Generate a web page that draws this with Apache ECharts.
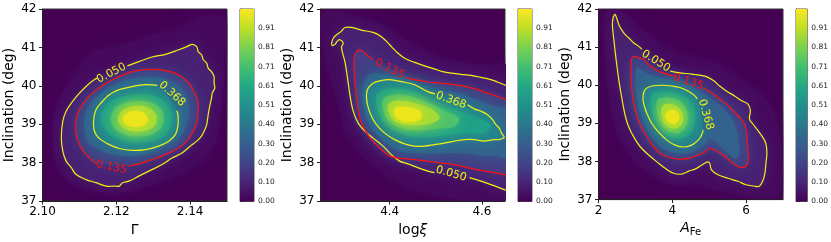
<!DOCTYPE html>
<html><head><meta charset="utf-8">
<script src="https://cdn.jsdelivr.net/npm/echarts@6/dist/echarts.min.js"></script>
<style>html,body{margin:0;padding:0;background:#fff}#c{width:831px;height:242px}</style>
</head><body><div id="c"></div>
<script>
// ---------- axes / ticks ----------
const yRange = [37, 42];
const yTicks = [37, 38, 39, 40, 41, 42];
const p1_xRange = [2.10, 2.15];
const p1_xTicks = [2.10, 2.12, 2.14];
const p2_xRange = [4.25, 4.65];
const p2_xTicks = [4.4, 4.6];
const p3_xRange = [2, 7];
const p3_xTicks = [2, 4, 6];
const cbRange = [0, 1.01];
const cbTicks = [0, 0.1011, 0.2022, 0.3033, 0.4044, 0.5055, 0.6066, 0.7077, 0.8088, 0.9099];
const contourLevels = ['0.050', '0.135', '0.368'];

// ---------- panel 1 (Gamma) ----------
const p1_c050 = [[2.1230,40.52],[2.1261,40.63],[2.1297,40.75],[2.1333,40.82],[2.1369,40.94],[2.1391,41.02],[2.1406,41.08],[2.1418,41.02],[2.1422,40.89],[2.1431,40.81],[2.1436,40.68],[2.1445,40.59],[2.1449,40.46],[2.1458,40.37],[2.1465,40.24],[2.1465,40.07],[2.1467,39.94],[2.1460,39.81],[2.1458,39.68],[2.1454,39.51],[2.1449,39.25],[2.1445,38.99],[2.1440,38.86],[2.1431,38.69],[2.1418,38.56],[2.1400,38.43],[2.1378,38.25],[2.1351,38.12],[2.1324,37.95],[2.1288,37.78],[2.1261,37.65],[2.1234,37.52],[2.1217,37.48],[2.1208,37.39],[2.1194,37.39],[2.1172,37.39],[2.1145,37.48],[2.1118,37.56],[2.1091,37.69],[2.1078,37.87],[2.1064,38.04],[2.1055,38.30],[2.1051,38.64],[2.1055,39.08],[2.1064,39.34],[2.1082,39.60],[2.1100,39.81],[2.1123,40.03],[2.1140,40.16],[2.1149,40.20]];
const p1_c135 = [[2.1234,37.91],[2.1261,37.97],[2.1297,38.08],[2.1333,38.21],[2.1369,38.38],[2.1391,38.56],[2.1406,38.77],[2.1418,39.03],[2.1422,39.34],[2.1421,39.60],[2.1413,39.81],[2.1400,40.03],[2.1387,40.16],[2.1369,40.29],[2.1346,40.37],[2.1315,40.42],[2.1279,40.42],[2.1243,40.37],[2.1208,40.24],[2.1172,40.07],[2.1140,39.85],[2.1118,39.64],[2.1100,39.38],[2.1091,39.12],[2.1090,38.82],[2.1096,38.56],[2.1105,38.38],[2.1118,38.21],[2.1136,38.04],[2.1147,37.97]];
const p1_c368 = [[2.1311,40.01],[2.1279,40.03],[2.1243,39.98],[2.1208,39.90],[2.1181,39.77],[2.1158,39.55],[2.1145,39.38],[2.1139,39.16],[2.1139,38.90],[2.1145,38.73],[2.1158,38.60],[2.1181,38.47],[2.1208,38.37],[2.1243,38.32],[2.1279,38.34],[2.1315,38.43],[2.1342,38.56],[2.1360,38.73],[2.1367,38.95],[2.1367,39.25],[2.1364,39.35]];
const p1_f020 = [[2.1127,40.81],[2.1217,41.07],[2.1306,41.33],[2.1378,41.54],[2.1422,41.76],[2.1467,41.84],[2.1494,41.76],[2.1494,40.81],[2.1490,39.94],[2.1481,39.08],[2.1467,38.47],[2.1431,38.04],[2.1369,37.69],[2.1288,37.39],[2.1217,37.22],[2.1145,37.26],[2.1082,37.43],[2.1042,37.87],[2.1029,38.47],[2.1030,39.16],[2.1047,39.68],[2.1078,40.20]];
const p1_f250 = [[2.1279,40.22],[2.1333,40.18],[2.1373,39.98],[2.1394,39.64],[2.1396,39.25],[2.1387,38.90],[2.1369,38.64],[2.1337,38.47],[2.1297,38.30],[2.1252,38.19],[2.1208,38.19],[2.1163,38.30],[2.1127,38.51],[2.1114,38.82],[2.1114,39.16],[2.1125,39.47],[2.1149,39.73],[2.1185,39.98],[2.1230,40.16]];
const p1_f500 = [[2.1252,39.77],[2.1302,39.75],[2.1337,39.55],[2.1351,39.25],[2.1346,38.90],[2.1324,38.66],[2.1279,38.54],[2.1234,38.54],[2.1194,38.66],[2.1167,38.89],[2.1158,39.16],[2.1170,39.47],[2.1203,39.68]];
const p1_f650 = [[2.1248,39.60],[2.1296,39.56],[2.1324,39.36],[2.1328,39.07],[2.1311,38.81],[2.1270,38.69],[2.1228,38.71],[2.1194,38.90],[2.1185,39.16],[2.1200,39.45]];
const p1_f800 = [[2.1246,39.47],[2.1288,39.43],[2.1309,39.22],[2.1303,38.95],[2.1272,38.82],[2.1230,38.85],[2.1206,39.05],[2.1212,39.32]];
const p1_f920 = [[2.1238,39.34],[2.1274,39.30],[2.1286,39.10],[2.1266,38.94],[2.1230,38.97],[2.1218,39.16]];
const p1_labels = [['0.050',2.1187,40.33,27.5],['0.135',2.1187,37.88,-12],['0.368',2.1351,39.79,-42]];

// ---------- panel 2 (log xi) ----------
const p2_c050a = [[4.4971,37.74],[4.4827,37.78],[4.4611,37.87],[4.4396,37.97],[4.4216,38.04],[4.4036,38.21],[4.3856,38.43],[4.3640,38.64],[4.3460,38.82],[4.3317,39.03],[4.3209,39.34],[4.3137,39.77],[4.3086,40.20],[4.3029,40.63],[4.2971,40.89],[4.2957,41.02],[4.2993,41.11],[4.2921,41.20],[4.2871,41.17],[4.2813,41.08],[4.2755,41.05],[4.2741,41.11],[4.2777,41.24],[4.2849,41.33],[4.2942,41.41],[4.3029,41.52],[4.3173,41.52],[4.3389,41.45],[4.3640,41.39],[4.3820,41.28],[4.4000,41.07],[4.4144,40.89],[4.4324,40.72],[4.4540,40.61],[4.4755,40.52],[4.4971,40.44],[4.5151,40.37],[4.5331,40.33],[4.5547,40.30],[4.5763,40.27],[4.5978,40.22],[4.6194,40.16],[4.6338,40.10],[4.6482,40.03],[4.6626,39.96]];
const p2_c050b = [[4.5727,37.61],[4.5978,37.52],[4.6194,37.43],[4.6482,37.30],[4.6626,37.24]];
const p2_c135a = [[4.6626,37.64],[4.6482,37.69],[4.6266,37.74],[4.5978,37.80],[4.5691,37.87],[4.5403,37.95],[4.5115,37.99],[4.4827,38.04],[4.4540,38.08],[4.4252,38.11],[4.4000,38.17],[4.3784,38.38],[4.3604,38.60],[4.3460,38.86],[4.3353,39.16],[4.3302,39.51],[4.3259,39.94],[4.3230,40.37],[4.3230,40.72],[4.3281,40.89],[4.3374,40.94],[4.3496,40.81],[4.3640,40.68]];
const p2_c135b = [[4.4360,40.22],[4.4540,40.16],[4.4827,40.10],[4.5115,40.07],[4.5403,40.03],[4.5655,39.98],[4.5906,39.90],[4.6122,39.81],[4.6338,39.73],[4.6482,39.66],[4.6626,39.60]];
const p2_c368 = [[4.5691,39.51],[4.5835,39.40],[4.5978,39.34],[4.6122,39.25],[4.6230,39.12],[4.6302,38.99],[4.6374,38.90],[4.6424,38.77],[4.6482,38.66],[4.6374,38.60],[4.6266,38.60],[4.6050,38.56],[4.5835,38.60],[4.5619,38.60],[4.5403,38.56],[4.5187,38.51],[4.4971,38.47],[4.4755,38.43],[4.4540,38.43],[4.4324,38.49],[4.4108,38.60],[4.3892,38.77],[4.3712,38.99],[4.3590,39.25],[4.3518,39.51],[4.3496,39.77],[4.3532,39.94],[4.3640,40.07],[4.3784,40.13],[4.4000,40.16],[4.4252,40.11],[4.4540,40.03],[4.4827,39.85],[4.4986,39.79]];
const p2_f020 = [[4.2525,41.84],[4.2885,41.93],[4.3317,41.80],[4.3892,41.58],[4.4324,41.24],[4.4827,40.89],[4.5475,40.63],[4.6050,40.55],[4.6626,40.46],[4.6626,36.91],[4.5331,37.09],[4.4611,37.26],[4.4036,37.61],[4.3532,38.04],[4.3101,38.64],[4.2885,39.51],[4.2669,40.37],[4.2525,41.07]];
const p2_f250 = [[4.3410,39.85],[4.3460,40.11],[4.3568,40.29],[4.3712,40.33],[4.4108,40.24],[4.4540,40.09],[4.4971,39.94],[4.5475,39.81],[4.5906,39.64],[4.6266,39.47],[4.6626,39.34],[4.6626,38.12],[4.6338,38.17],[4.5978,38.19],[4.5619,38.25],[4.5259,38.25],[4.4899,38.25],[4.4540,38.25],[4.4180,38.32],[4.3892,38.53],[4.3676,38.79],[4.3532,39.08],[4.3446,39.42]];
const p2_f500 = [[4.3712,39.77],[4.3892,39.92],[4.4252,39.92],[4.4611,39.81],[4.4971,39.51],[4.5403,39.38],[4.5835,39.21],[4.6194,38.97],[4.6050,38.77],[4.5619,38.77],[4.5187,38.71],[4.4755,38.66],[4.4396,38.71],[4.4072,38.86],[4.3856,39.08],[4.3734,39.42]];
const p2_f650 = [[4.3856,39.66],[4.4108,39.77],[4.4468,39.72],[4.4827,39.55],[4.5187,39.36],[4.5500,39.16],[4.5420,38.95],[4.5043,38.88],[4.4611,38.84],[4.4252,38.90],[4.3990,39.07],[4.3870,39.34]];
const p2_f800 = [[4.3985,39.54],[4.4252,39.61],[4.4625,39.52],[4.4960,39.36],[4.5080,39.16],[4.4840,39.00],[4.4468,38.98],[4.4130,39.06],[4.3985,39.28]];
const p2_f920 = [[4.4120,39.42],[4.4396,39.45],[4.4680,39.32],[4.4650,39.11],[4.4324,39.06],[4.4120,39.20]];
const p2_labels = [['0.050',4.5331,37.71,-16],['0.135',4.4000,40.44,-27],['0.368',4.5331,39.62,-20]];

// ---------- panel 3 (A_Fe) ----------
const p3_c050 = [[3.942,40.37],[4.166,40.33],[4.524,40.29],[4.882,40.24],[5.105,40.13],[5.284,39.98],[5.463,39.85],[5.687,39.72],[5.866,39.60],[6.045,39.51],[6.117,39.34],[6.090,39.12],[6.179,38.99],[6.313,38.82],[6.448,38.64],[6.537,38.47],[6.564,38.21],[6.537,37.95],[6.510,37.69],[6.448,37.48],[6.358,37.35],[6.224,37.35],[6.000,37.39],[5.777,37.48],[5.508,37.56],[5.240,37.65],[5.061,37.78],[5.016,37.95],[4.971,37.99],[4.837,37.93],[4.658,37.82],[4.434,37.74],[4.255,37.67],[4.031,37.69],[3.808,37.82],[3.584,37.99],[3.360,38.17],[3.137,38.38],[2.958,38.64],[2.823,38.90],[2.734,39.16],[2.644,39.60],[2.555,40.11],[2.483,40.63],[2.421,41.15],[2.376,41.58],[2.394,41.76],[2.447,41.86],[2.510,41.71],[2.573,41.54],[2.689,41.37],[2.823,41.24],[2.958,41.11],[3.092,41.02],[3.181,40.94]];
const p3_c135 = [[4.837,39.92],[5.061,39.81],[5.284,39.64],[5.463,39.51],[5.642,39.34],[5.821,39.16],[5.955,38.99],[6.000,38.82],[6.027,38.64],[6.045,38.38],[6.063,38.08],[6.027,37.91],[5.911,37.84],[5.777,37.87],[5.597,37.99],[5.374,38.17],[5.150,38.30],[5.016,38.34],[4.882,38.25],[4.703,38.17],[4.434,38.08],[4.166,38.06],[3.897,38.11],[3.673,38.21],[3.494,38.38],[3.342,38.60],[3.181,38.86],[3.047,39.16],[2.958,39.51],[2.895,39.94],[2.877,40.37],[2.895,40.68],[2.958,40.76],[3.092,40.72],[3.226,40.68],[3.405,40.50],[3.629,40.37],[3.852,40.29],[4.031,40.24]];
const p3_c368 = [[4.676,39.64],[4.613,39.72],[4.434,39.84],[4.210,39.94],[3.987,39.98],[3.718,40.00],[3.450,39.98],[3.271,39.90],[3.208,39.72],[3.226,39.51],[3.315,39.25],[3.450,38.99],[3.629,38.77],[3.852,38.56],[4.076,38.43],[4.300,38.38],[4.524,38.43],[4.703,38.56],[4.792,38.69],[4.837,38.82]];
const p3_f020 = [[2.197,41.93],[2.644,41.93],[3.271,41.41],[4.166,40.81],[5.150,40.59],[5.955,40.11],[6.582,39.60],[6.895,38.82],[6.940,37.95],[6.850,37.09],[6.224,37.04],[5.329,37.22],[4.613,37.39],[3.987,37.39],[3.271,37.74],[2.734,38.30],[2.421,38.99],[2.242,39.94],[2.152,41.07]];
const p3_f250 = [[3.047,40.46],[3.271,40.33],[3.718,40.18],[4.255,40.10],[4.792,39.81],[5.240,39.51],[5.508,39.25],[5.687,38.99],[5.777,38.64],[5.821,38.25],[5.732,38.08],[5.508,38.21],[5.240,38.47],[5.016,38.60],[4.837,38.43],[4.524,38.25],[4.166,38.21],[3.808,38.30],[3.539,38.51],[3.315,38.82],[3.137,39.25],[3.047,39.68],[3.002,40.11]];
const p3_f500 = [[3.450,39.77],[3.808,39.84],[4.166,39.77],[4.479,39.60],[4.613,39.34],[4.613,38.99],[4.479,38.73],[4.210,38.60],[3.942,38.64],[3.718,38.82],[3.539,39.08],[3.432,39.42]];
const p3_f650 = [[3.610,39.63],[3.942,39.67],[4.270,39.53],[4.410,39.25],[4.380,38.93],[4.166,38.74],[3.900,38.79],[3.700,38.98],[3.590,39.29]];
const p3_f800 = [[3.745,39.47],[4.040,39.49],[4.260,39.31],[4.280,39.01],[4.080,38.86],[3.840,38.93],[3.715,39.16]];
const p3_f920 = [[3.880,39.33],[4.110,39.33],[4.195,39.15],[4.070,38.99],[3.880,39.04],[3.810,39.19]];
const p3_labels = [['0.050',3.557,40.63,-32],['0.135',4.434,40.09,-18],['0.368',4.908,39.23,-74]];

// ---------- styling ----------
const FONT = 'DejaVu Sans';
const viridis = ['#440154','#482475','#414487','#355f8d','#2a788e','#21918c','#22a884','#44bf70','#7ad151','#bddf26','#fde725'];
const fillColors = ['#460a5d','#482173','#433e85','#33628d','#26818e','#1fa088','#4ac16d','#a2da37','#ece51b'];
const YEL = '#f0f012', RED = '#ff1010';
const levelColor = {'0.050': YEL, '0.135': RED, '0.368': YEL};

const panels = [
  { left: 42.5, xr: p1_xRange, xt: p1_xTicks, fmt: v => v.toFixed(2),
    name: 'Γ',
    fills: [p1_f020, p1_c050, p1_c135, p1_f250, p1_c368, p1_f500, p1_f650, p1_f800, p1_f920],
    lines: [[p1_c050,'0.050'],[p1_c135,'0.135'],[p1_c368,'0.368']], labels: p1_labels },
  { left: 320.5, xr: p2_xRange, xt: p2_xTicks, fmt: v => v.toFixed(1),
    name: '{r|log}{i|ξ}',
    fills: [p2_f020, p2_c050a.concat(p2_c050b.slice().reverse()), p2_c135a.concat(p2_c135b), p2_f250, p2_c368, p2_f500, p2_f650, p2_f800, p2_f920],
    lines: [[p2_c050a,'0.050'],[p2_c050b,'0.050'],[p2_c135a,'0.135'],[p2_c135b,'0.135'],[p2_c368,'0.368']], labels: p2_labels },
  { left: 598.5, xr: p3_xRange, xt: p3_xTicks, fmt: v => String(v),
    name: '{i|A}{s|Fe}',
    fills: [p3_f020, p3_c050, p3_c135, p3_f250, p3_c368, p3_f500, p3_f650, p3_f800, p3_f920],
    lines: [[p3_c050,'0.050'],[p3_c135,'0.135'],[p3_c368,'0.368']], labels: p3_labels }
];

const TOP = 9, H = 192.5, W = 184.5, CBW = 14;
const grid = [], xAxis = [], yAxis = [], series = [];
const nameRich = {
  r: {fontSize: 14, fontFamily: FONT, color: '#000'},
  i: {fontSize: 14, fontFamily: FONT, fontStyle: 'italic', color: '#000'},
  s: {fontSize: 10, fontFamily: FONT, color: '#000', padding: [7, 0, 0, 0]}
};
panels.forEach((p, k) => {
  grid.push({left: p.left, top: TOP, width: W, height: H, show: true, backgroundColor: '#440154', borderColor: '#333', borderWidth: 1});
  xAxis.push({gridIndex: k, type: 'value', min: p.xr[0], max: p.xr[1],
    axisLine: {show: true, onZero: false, lineStyle: {color: '#222', width: 1}},
    axisTick: {show: true, customValues: p.xt, length: 3.5, lineStyle: {color: '#222'}},
    axisLabel: {customValues: p.xt, formatter: p.fmt, fontSize: 12, fontFamily: FONT, color: '#000', margin: 5},
    splitLine: {show: false},
    name: p.name, nameLocation: 'middle', nameGap: 19,
    nameTextStyle: {fontSize: 14, fontFamily: FONT, color: '#000', rich: nameRich}});
  yAxis.push({gridIndex: k, type: 'value', min: yRange[0], max: yRange[1],
    axisLine: {show: true, onZero: false, lineStyle: {color: '#222', width: 1}},
    axisTick: {show: true, customValues: yTicks, length: 3.5, lineStyle: {color: '#222'}},
    axisLabel: {customValues: yTicks, formatter: v => String(v), fontSize: 12, fontFamily: FONT, color: '#000', margin: 6},
    splitLine: {show: false},
    name: 'Inclination (deg)', nameLocation: 'middle', nameGap: 26,
    nameTextStyle: {fontSize: 14, fontFamily: FONT, color: '#000'}});
  // fills
  series.push({type: 'custom', xAxisIndex: k, yAxisIndex: k, clip: true, silent: true, z: 2,
    data: p.fills.map((f, i) => [i]),
    renderItem: (params, api) => {
      const i = params.dataIndex;
      const c = fillColors[i];
      return {type: 'polygon', shape: {points: p.fills[i].map(pt => api.coord(pt)), smooth: 0.35},
        style: {fill: c, shadowBlur: 14, shadowColor: c}};
    }});
  // contour lines
  series.push({type: 'custom', xAxisIndex: k, yAxisIndex: k, clip: true, silent: true, z: 3,
    data: p.lines.map((l, i) => [i]),
    renderItem: (params, api) => {
      const l = p.lines[params.dataIndex];
      return {type: 'polyline', shape: {points: l[0].map(pt => api.coord(pt)), smooth: 0.35},
        style: {stroke: levelColor[l[1]], lineWidth: 1.2, fill: null}};
    }});
  // contour labels
  series.push({type: 'custom', xAxisIndex: k, yAxisIndex: k, clip: true, silent: true, z: 4,
    data: p.labels.map((l, i) => [i]),
    renderItem: (params, api) => {
      const L = p.labels[params.dataIndex];
      const c = api.coord([L[1], L[2]]);
      return {type: 'text', x: c[0], y: c[1], rotation: L[3] * Math.PI / 180,
        style: {text: L[0], fill: levelColor[L[0]], font: '11px "DejaVu Sans"', align: 'center', verticalAlign: 'middle'}};
    }});
});
// colorbars
panels.forEach((p, k) => {
  const g = 3 + k;
  grid.push({left: p.left + 197.5, top: TOP, width: CBW, height: H, show: true, borderColor: '#555', borderWidth: 1});
  xAxis.push({gridIndex: g, type: 'value', min: 0, max: 1, show: false});
  yAxis.push({gridIndex: g, type: 'value', min: cbRange[0], max: cbRange[1], position: 'right',
    axisLine: {show: true, lineStyle: {color: '#555'}},
    axisTick: {show: true, customValues: cbTicks, length: 2.5, lineStyle: {color: '#333'}},
    axisLabel: {customValues: cbTicks, formatter: v => v.toFixed(2), fontSize: 7.5, fontFamily: FONT, color: '#222', margin: 4},
    splitLine: {show: false}});
  series.push({type: 'custom', xAxisIndex: g, yAxisIndex: g, silent: true, data: [[0]],
    renderItem: (params, api) => {
      const a = api.coord([0, cbRange[0]]), b = api.coord([1, cbRange[1]]);
      return {type: 'rect', shape: {x: a[0], y: b[1], width: b[0] - a[0], height: a[1] - b[1]},
        style: {fill: new echarts.graphic.LinearGradient(0, 1, 0, 0,
          viridis.map((c, i) => ({offset: i / (viridis.length - 1), color: c})))}};
    }});
});

const chart = echarts.init(document.getElementById('c'), null, {renderer: 'canvas'});
chart.setOption({animation: false, textStyle: {fontFamily: FONT}, grid, xAxis, yAxis, series});
</script></body></html>
